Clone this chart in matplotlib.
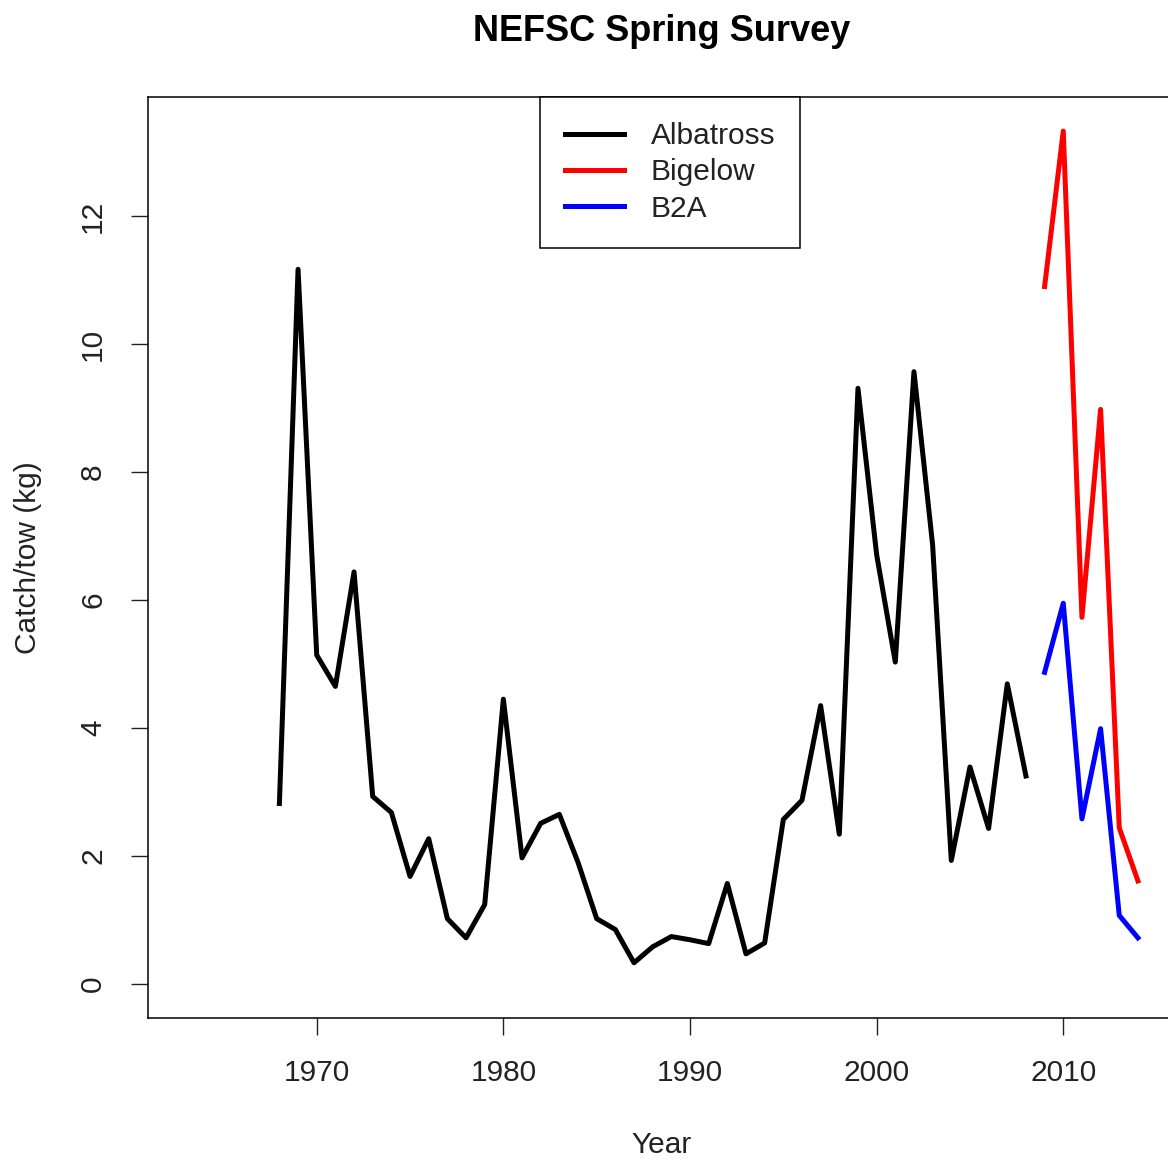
import numpy as np
import matplotlib
matplotlib.use('Agg')
import matplotlib.pyplot as plt

plt.rcParams['font.family'] = ['Liberation Sans', 'DejaVu Sans']

alb_years = np.arange(1968, 2009)
alb_vals = [2.82, 11.17, 5.14, 4.65, 6.44, 2.93, 2.68, 1.68, 2.27, 1.02,
            0.72, 1.24, 4.45, 1.97, 2.51, 2.65, 1.90, 1.02, 0.85, 0.33,
            0.58, 0.74, 0.69, 0.63, 1.57, 0.47, 0.64, 2.57, 2.87, 4.35,
            2.34, 9.31, 6.71, 5.03, 9.57, 6.86, 1.93, 3.39, 2.43, 4.69,
            3.25]

big_years = np.arange(2009, 2015)
big_vals = [10.9, 13.33, 5.73, 8.98, 2.44, 1.61]
b2a_vals = [4.87, 5.95, 2.58, 3.99, 1.07, 0.72]

fig = plt.figure(figsize=(11.68, 11.6), dpi=100)
ax = fig.add_axes([148/1168, 1 - 1018/1160, 1028/1168, 921/1160])

ax.plot(alb_years, alb_vals, color='black', lw=3.6, label='Albatross')
ax.plot(big_years, big_vals, color='#ff0000', lw=3.6, label='Bigelow')
ax.plot(big_years, b2a_vals, color='#0000ff', lw=3.6, label='B2A')

ax.set_xlim(1960.96, 2016.04)
ax.set_ylim(-0.533, 13.863)
ax.set_xticks([1970, 1980, 1990, 2000, 2010])
ax.set_yticks([0, 2, 4, 6, 8, 10, 12])
ax.tick_params(axis='x', length=12.5, width=1, pad=17, labelsize=21.5, colors='#222222')
ax.tick_params(axis='y', length=12.5, width=1, pad=17, labelsize=21.5, colors='#222222')
for lab in ax.get_yticklabels():
    lab.set_rotation(90)
    lab.set_va('center')
for s in ax.spines.values():
    s.set_linewidth(1.1)

ax.set_xlabel('Year', fontsize=21.5, labelpad=32, color='#222222')
ax.set_ylabel('Catch/tow (kg)', fontsize=21.5, labelpad=27, color='#222222')
ax.set_title('NEFSC Spring Survey', fontsize=26, fontweight='bold', pad=40)

leg = ax.legend(loc='upper left', bbox_to_anchor=(392/1028, 1.0), borderaxespad=0,
                fancybox=False, edgecolor='black', framealpha=1, fontsize=21.5,
                handlelength=1.95, handletextpad=0.9, borderpad=0.85, labelspacing=0.27)
leg.get_frame().set_linewidth(1.1)
for t in leg.get_texts():
    t.set_color('#222222')

fig.savefig('out.png', dpi=100)
